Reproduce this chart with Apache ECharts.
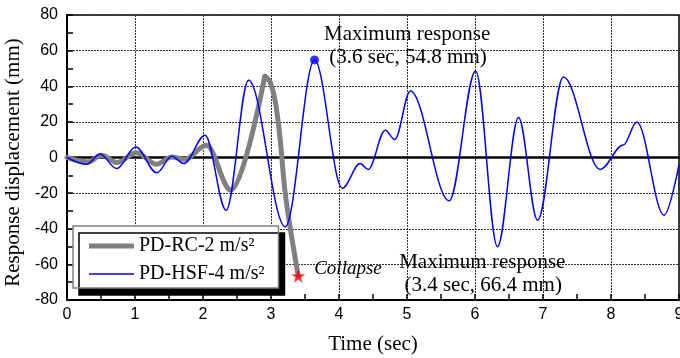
<!DOCTYPE html>
<html>
<head>
<meta charset="utf-8">
<script src="https://cdn.jsdelivr.net/npm/echarts@6/dist/echarts.min.js"></script>
<style>html,body{margin:0;padding:0;background:#fff}#c{width:680px;height:358px}</style>
</head>
<body>
<div id="c"></div>
<script>
// ---- data ----
const rcName = 'PD-RC-2 m/s\u00b2';
const hsfName = 'PD-HSF-4 m/s\u00b2';

// PD-HSF-4 (blue) time history: peaks / troughs
const hsfTime = [0, 0.29, 0.485, 0.73, 1.01, 1.32, 1.54, 1.72, 2.03, 2.34, 2.67, 3.21, 3.64, 4.05, 4.31, 4.43, 4.68, 4.82, 5.05, 5.62, 6.01, 6.33, 6.64, 6.92, 7.30, 7.84, 8.18, 8.38, 8.78, 9.0];
const hsfDisp = [0, -3.8, 1.9, -6.2, 5.9, -8.6, 0.7, -3.4, 12.5, -29.6, 43.4, -38.9, 54.8, -17.2, -3.4, -6.7, 15.3, 10.1, 37.4, -24.3, 48.6, -50.1, 22.4, -35.2, 45.2, -6.7, 7.0, 20.0, -32.4, -4.0];

// PD-RC-2 (gray) oscillation part: peaks / troughs
const rcTime = [0, 0.31, 0.51, 0.73, 1.02, 1.32, 1.54, 1.73, 2.05, 2.41, 2.91];
const rcDisp = [0, -2.5, 1.3, -2.8, 2.6, -3.8, 0.3, -1.1, 6.9, -18.3, 45.6];
// PD-RC-2 (gray) final drop to collapse
const rcDropTime = [2.91, 2.98, 3.06, 3.13, 3.20, 3.28, 3.40];
const rcDropDisp = [45.6, 43.0, 32.0, 12.0, -17.0, -39.0, -66.4];

// markers
const hsfMax = [3.64, 54.8];
const rcCollapse = [3.4, -66.4];

const xTickMin = 0, xTickMax = 9, xTickStep = 1;
const yTickMin = -80, yTickMax = 80, yTickStep = 20;

const zip = (t, v) => t.map((x, i) => [x, v[i]]);

const serif = 'Liberation Serif';
const sans = 'Liberation Sans';
const star = 'path://M50,0 L61.8,35.1 L98.1,35.1 L68.8,56.8 L79.4,91 L50,70 L20.6,91 L31.2,56.8 L1.9,35.1 L38.2,35.1 Z';
const txt = {fontFamily: serif, color: '#000', fontWeight: 'normal', textBorderWidth: 0, opacity: 1};

const chart = echarts.init(document.getElementById('c'), null, {renderer: 'canvas'});
chart.setOption({
  animation: false,
  backgroundColor: '#fff',
  grid: {left: 67, right: 1, top: 15, bottom: 58, containLabel: false, outerBoundsMode: 'none',
    show: true, borderColor: '#000', borderWidth: 1.5, backgroundColor: 'transparent'},
  legend: {
    left: 73, top: 226, orient: 'vertical',
    padding: [10, 14, 4, 16],
    itemWidth: 45, itemHeight: 14, itemGap: 8,
    backgroundColor: '#fff', borderColor: '#808080', borderWidth: 1.5,
    shadowColor: '#000', shadowBlur: 0, shadowOffsetX: 6, shadowOffsetY: 7,
    textStyle: Object.assign({fontSize: 20}, txt),
    itemStyle: {borderWidth: 0},
    data: [
      {name: rcName, icon: 'path://M0,0H90V10H0Z'},
      {name: hsfName, icon: 'path://M0,0H90V3H0Z'}
    ]
  },
  xAxis: [{
    type: 'value', min: xTickMin, max: xTickMax, interval: xTickStep,
    name: 'Time (sec)', nameLocation: 'middle', nameGap: 34,
    nameTextStyle: Object.assign({fontSize: 21}, txt),
    axisLine: {onZero: false, lineStyle: {color: '#000', width: 2}},
    axisTick: {inside: true, length: 6, lineStyle: {color: '#000', width: 1.5}},
    minorTick: {show: true, splitNumber: 2, length: 6, lineStyle: {color: '#000', width: 1.5}},
    axisLabel: {fontFamily: sans, fontSize: 16, color: '#000', margin: 7, hideOverlap: false, showMaxLabel: true, showMinLabel: true},
    splitLine: {show: true, lineStyle: {color: '#333', width: 1, type: [2, 1]}}
  }, {
    type: 'value', min: xTickMin, max: xTickMax, position: 'bottom',
    axisLine: {show: true, onZero: true, lineStyle: {color: '#000', width: 2.5}},
    axisTick: {show: false}, axisLabel: {show: false}, splitLine: {show: false}
  }],
  yAxis: {
    type: 'value', min: yTickMin, max: yTickMax, interval: yTickStep,
    name: 'Response displacement (mm)', nameLocation: 'middle', nameGap: 38,
    nameTextStyle: Object.assign({fontSize: 21, padding: [0, 10, 0, 0]}, txt),
    axisLine: {onZero: false, lineStyle: {color: '#000', width: 2}},
    axisTick: {inside: true, length: 6, lineStyle: {color: '#000', width: 1.5}},
    minorTick: {show: true, splitNumber: 2, length: 6, lineStyle: {color: '#000', width: 1.5}},
    axisLabel: {fontFamily: sans, fontSize: 16, color: '#000', margin: 9},
    splitLine: {show: true, lineStyle: {color: '#333', width: 1, type: [2, 1]}}
  },
  series: [
    {
      name: rcName, type: 'line', xAxisIndex: 0, data: zip(rcTime, rcDisp),
      smooth: 0.35, smoothMonotone: 'x', showSymbol: false, symbol: 'none',
      itemStyle: {color: '#808080'},
      lineStyle: {color: '#808080', width: 5, cap: 'round', join: 'round'}, z: 3
    },
    {
      name: rcName, type: 'line', xAxisIndex: 0, data: zip(rcDropTime, rcDropDisp),
      smooth: 0.3, showSymbol: false, symbol: 'none',
      itemStyle: {color: '#808080'},
      lineStyle: {color: '#808080', width: 5, cap: 'round', join: 'round'}, z: 3
    },
    {
      name: hsfName, type: 'line', xAxisIndex: 0, data: zip(hsfTime, hsfDisp),
      smooth: 0.35, smoothMonotone: 'x', showSymbol: false, symbol: 'none',
      itemStyle: {color: '#0000ff'},
      lineStyle: {color: '#0000ff', width: 1.5}, z: 4
    },
    {
      name: 'hsfMax', type: 'scatter', xAxisIndex: 0, data: [hsfMax],
      symbol: 'circle', symbolSize: 9, itemStyle: {color: '#0000ff'}, z: 5,
      label: Object.assign({show: true, position: [14, -32.6], align: 'left', verticalAlign: 'top',
        fontSize: 21, lineHeight: 23,
        formatter: 'Maximum response\n (3.6 sec, 54.8 mm)'}, txt)
    },
    {
      name: 'rcCollapse', type: 'scatter', xAxisIndex: 0, data: [rcCollapse],
      symbol: star, symbolSize: 14, itemStyle: {color: '#ff0000'}, z: 5,
      label: Object.assign({show: true, position: [23, 0], align: 'left', verticalAlign: 'middle',
        fontStyle: 'italic', fontSize: 19,
        formatter: 'Collapse'}, txt),
      markPoint: {
        symbol: 'circle', symbolSize: 0, silent: true,
        label: Object.assign({show: true, position: [101, -25.2], align: 'left', verticalAlign: 'top',
          fontSize: 21, lineHeight: 23,
          formatter: 'Maximum response\n (3.4 sec, 66.4 mm)'}, txt),
        data: [{coord: rcCollapse}]
      }
    }
  ]
});
</script>
</body>
</html>
